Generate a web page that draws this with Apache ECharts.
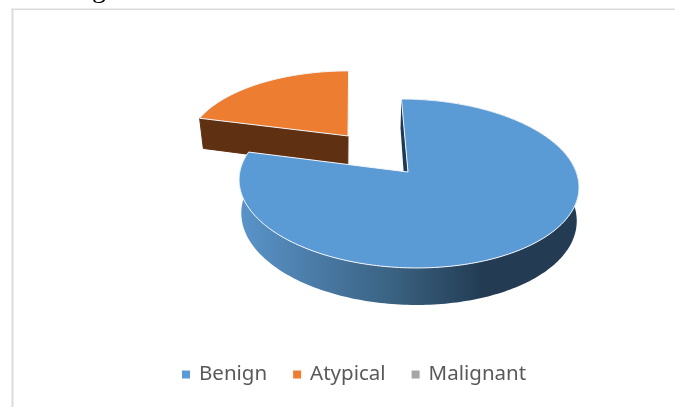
<!DOCTYPE html>
<html>
<head>
<meta charset="utf-8">
<style>html,body{margin:0;padding:0;background:#fff}#c{width:675px;height:407px}</style>
<script src="https://cdn.jsdelivr.net/npm/echarts@6/dist/echarts.min.js"></script>
</head>
<body>
<div id="c"></div>
<script>
const categories = ['Benign', 'Atypical', 'Malignant'];
const values = [79, 21, 0];

const palette = ['#5b9bd5', '#ed7d31', '#a5a5a5'];
const total = values.reduce((a, b) => a + b, 0);

// perspective projection of the pie plane
const P = { x0: 408, y0: 172, a: 168.2, b: 82.9, k: 0.136, shear: 0.09 };
const explodeBy = [0, 0.585, 0];

function project(u, v, lower) {
  const w = 1 - P.k * v;
  const sy = P.b * v / w;
  const scale = lower ? 0.987 : 1;
  const x = P.x0 + (P.a * u / w + P.shear * sy) * scale;
  const y = P.y0 + sy + (lower ? (33 + 4 * v) : 0);
  return [x, y];
}

function sliceGeometry(i) {
  let before = 0;
  for (let j = 0; j < i; j++) before += values[j];
  const start = before / total * Math.PI * 2;
  const end = (before + values[i]) / total * Math.PI * 2;
  const mid = (start + end) / 2;
  const e = explodeBy[i];
  const ox = Math.sin(mid) * e, oy = -Math.cos(mid) * e;
  const pt = (t, r, lower) => project(ox + Math.sin(t) * r, oy - Math.cos(t) * r, lower);
  const angles = [];
  const n = Math.max(2, Math.ceil((end - start) / 0.02));
  for (let s = 0; s <= n; s++) angles.push(start + (end - start) * s / n);
  return { start, end, pt, angles };
}

function poly(points, fill, stroke) {
  return {
    type: 'polygon',
    shape: { points },
    style: stroke ? { fill, stroke, lineWidth: 1, lineJoin: 'round' } : { fill }
  };
}

const blueSide = {
  type: 'linear', x: 240, y: 0, x2: 482, y2: 0, global: true,
  colorStops: [{ offset: 0, color: '#5a94ca' }, { offset: 0.65, color: '#39607f' }, { offset: 1, color: '#233c54' }]
};

function renderSlice(i) {
  if (!values[i]) return { type: 'group', children: [] };
  const g = sliceGeometry(i);
  const top = g.angles.map(t => g.pt(t, 1, false));
  const bottom = g.angles.map(t => g.pt(t, 1, true));
  const apex = g.pt(0, 0, false), apexLow = g.pt(0, 0, true);
  const children = [];
  if (i === 0) {
    // outer rim
    children.push(poly(top.concat(bottom.slice().reverse()), blueSide));
    // wall facing into the gap
    children.push(poly([top[0], apex, [apexLow[0] - 2, apexLow[1]], [bottom[0][0] - 1, bottom[0][1]]], '#1f3a54'));
  } else {
    // wall facing the viewer
    children.push(poly([top[0], apex, [apexLow[0] - 1, apexLow[1]], [bottom[0][0] + 1, bottom[0][1]]], '#5f3112', '#5f3112'));
  }
  children.push(poly([apex].concat(top), palette[i], '#f4f7fb'));
  return { type: 'group', children };
}

const chart = echarts.init(document.getElementById('c'), null, { renderer: 'canvas' });
chart.setOption({
  animation: false,
  backgroundColor: '#ffffff',
  color: palette,
  legend: {
    data: categories,
    left: 182,
    top: 364,
    padding: 0,
    icon: 'rect',
    itemWidth: 8,
    itemHeight: 8,
    itemGap: 26,
    selectedMode: false,
    textStyle: { fontFamily: 'Noto Sans', fontSize: 20.5, color: '#595959', padding: [0, 0, 0, 4] }
  },
  graphic: [
    { type: 'rect', silent: true, z: 0, shape: { x: 11.5, y: 8.5, width: 2, height: 400 }, style: { fill: '#dcdcdc' } },
    { type: 'rect', silent: true, z: 0, shape: { x: 11.5, y: 8.5, width: 665, height: 1.5 }, style: { fill: '#dcdcdc' } },
    { type: 'text', silent: true, z: 0, x: 92, y: -24, style: { text: 'g', font: '28px "Liberation Serif"', fill: '#000000' } }
  ],
  series: categories.map((name, i) => ({
    type: 'custom',
    name,
    coordinateSystem: 'none',
    silent: true,
    z: 5 - i,
    data: [[values[i]]],
    renderItem: () => renderSlice(i)
  }))
});
</script>
</body>
</html>
